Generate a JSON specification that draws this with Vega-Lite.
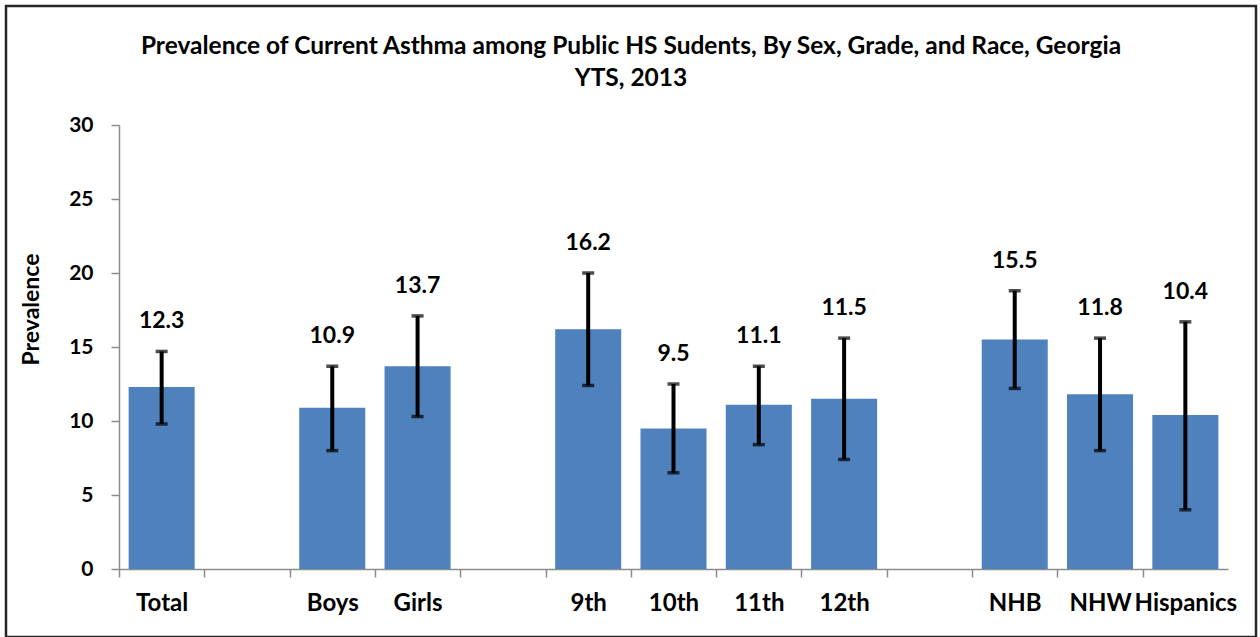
{
  "$schema": "https://vega.github.io/schema/vega-lite/v6.json",
  "autosize": {"type": "none"},
  "padding": {"left": 6, "top": 6, "right": 4, "bottom": 0},
  "width": 1250,
  "height": 631,
  "title": {
    "text": ["Prevalence of Current Asthma among Public HS Sudents, By Sex, Grade, and Race, Georgia", "YTS, 2013"],
    "font": "Lato",
    "fontSize": 24.5,
    "fontWeight": "bold",
    "color": "#000000",
    "lineHeight": 32,
    "anchor": "middle",
    "dy": 89
  },
  "data": {
    "values": [
      {"group": "Total", "value": 12.3, "lower": 9.8, "upper": 14.7},
      {"group": "Boys", "value": 10.9, "lower": 8.0, "upper": 13.7},
      {"group": "Girls", "value": 13.7, "lower": 10.3, "upper": 17.1},
      {"group": "9th", "value": 16.2, "lower": 12.4, "upper": 20.0},
      {"group": "10th", "value": 9.5, "lower": 6.5, "upper": 12.5},
      {"group": "11th", "value": 11.1, "lower": 8.4, "upper": 13.7},
      {"group": "12th", "value": 11.5, "lower": 7.4, "upper": 15.6},
      {"group": "NHB", "value": 15.5, "lower": 12.2, "upper": 18.8},
      {"group": "NHW", "value": 11.8, "lower": 8.0, "upper": 15.6},
      {"group": "Hispanics", "value": 10.4, "lower": 4.0, "upper": 16.7}
    ]
  },
  "encoding": {
    "x": {
      "field": "group",
      "type": "nominal",
      "sort": null,
      "scale": {
        "domain": ["Total", "gap1", "Boys", "Girls", "gap2", "9th", "10th", "11th", "12th", "gap3", "NHB", "NHW", "Hispanics"],
        "range": [113, 1222],
        "paddingInner": 0.226,
        "paddingOuter": 0.113
      },
      "axis": {
        "title": null,
        "offset": -68,
        "labelExpr": "indexof(datum.value, 'gap') == 0 ? '' : datum.value",
        "labelAngle": 0,
        "labelFont": "Lato",
        "labelFontSize": 24,
        "labelFontWeight": "bold",
        "labelColor": "#000000",
        "labelPadding": 14,
        "labelOffset": 42.65,
        "labelOverlap": false,
        "labelBound": false,
        "tickOffset": -42.65,
        "tickSize": 8,
        "tickColor": "#8c8c8c",
        "tickWidth": 1.5,
        "domainColor": "#8c8c8c",
        "domainWidth": 1.5
      }
    }
  },
  "layer": [
    {
      "mark": {"type": "bar", "color": "#4F81BD"},
      "encoding": {
        "y": {
          "field": "value",
          "type": "quantitative",
          "title": "Prevalence",
          "scale": {"domain": [0, 30], "range": [563, 119], "nice": false, "zero": true},
          "axis": {
            "title": "Prevalence",
            "titleFont": "Lato",
            "titleFontSize": 23,
            "titleFontWeight": "bold",
            "titleColor": "#000000",
            "titleAngle": -90,
            "titleAlign": "center",
            "titleBaseline": "middle",
            "titleX": -88,
            "titleY": 303,
            "offset": -113,
            "values": [0, 5, 10, 15, 20, 25, 30],
            "grid": false,
            "labelFont": "Lato",
            "labelFontSize": 21,
            "labelFontWeight": "bold",
            "labelColor": "#000000",
            "labelPadding": 18,
            "tickSize": 8,
            "tickColor": "#8c8c8c",
            "tickWidth": 1.5,
            "domainColor": "#8c8c8c",
            "domainWidth": 1.5
          }
        }
      }
    },
    {
      "mark": {
        "type": "errorbar",
        "ticks": {"color": "#000000", "size": 12, "thickness": 3.5},
        "rule": {"color": "#000000", "strokeWidth": 4}
      },
      "encoding": {
        "y": {"field": "lower", "type": "quantitative", "title": "Prevalence"},
        "y2": {"field": "upper"}
      }
    },
    {
      "mark": {
        "type": "text",
        "font": "Lato",
        "fontSize": 23,
        "fontWeight": "bold",
        "color": "#000000",
        "baseline": "middle",
        "dy": -30
      },
      "encoding": {
        "y": {"field": "upper", "type": "quantitative", "title": "Prevalence"},
        "text": {"field": "value", "type": "quantitative", "format": ".1f"}
      }
    }
  ],
  "config": {
    "view": {"stroke": "#262626", "strokeWidth": 2.5}
  }
}
